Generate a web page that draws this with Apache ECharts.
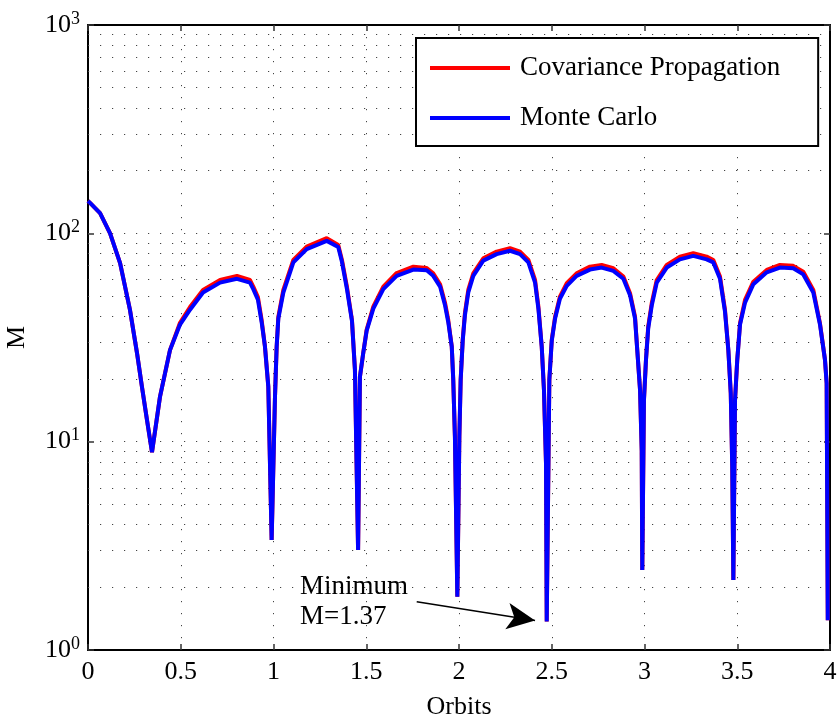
<!DOCTYPE html>
<html>
<head>
<meta charset="utf-8">
<script src="https://cdn.jsdelivr.net/npm/echarts@6/dist/echarts.min.js"></script>
<style>html,body{margin:0;padding:0;background:#fff;}#c{width:840px;height:721px;}</style>
</head>
<body>
<div id="c"></div>
<script>
const orbits = [0, 0.011, 0.065, 0.119, 0.173, 0.226, 0.264, 0.291, 0.318, 0.345, 0.388, 0.442, 0.496, 0.550, 0.620, 0.712, 0.803, 0.873, 0.891, 0.916, 0.936, 0.954, 0.972, 0.990, 1.008, 1.017, 1.026, 1.053, 1.107, 1.179, 1.287, 1.349, 1.369, 1.396, 1.423, 1.439, 1.456, 1.466, 1.484, 1.502, 1.538, 1.592, 1.664, 1.754, 1.826, 1.861, 1.898, 1.925, 1.942, 1.961, 1.969, 1.978, 1.991, 2.002, 2.009, 2.020, 2.032, 2.050, 2.077, 2.131, 2.203, 2.275, 2.329, 2.374, 2.410, 2.428, 2.446, 2.458, 2.469, 2.473, 2.487, 2.500, 2.518, 2.544, 2.581, 2.634, 2.706, 2.769, 2.832, 2.886, 2.922, 2.949, 2.961, 2.976, 2.985, 2.988, 2.997, 3.008, 3.020, 3.039, 3.066, 3.120, 3.191, 3.263, 3.335, 3.371, 3.407, 3.434, 3.452, 3.465, 3.473, 3.479, 3.488, 3.500, 3.515, 3.542, 3.587, 3.659, 3.730, 3.802, 3.856, 3.910, 3.946, 3.973, 3.982, 3.988];

const covariancePropagation = [143, 140, 125, 100, 72, 43, 26.7, 18.3, 12.7, 8.9, 16.4, 27.5, 37.2, 44.3, 53.5, 59.7, 62.4, 59.7, 55.5, 49.5, 38.4, 28.6, 18.4, 3.37, 16.4, 28.5, 39.7, 53.5, 74.5, 86.4, 94.8, 88, 74.5, 55.3, 38.4, 22.1, 3.02, 20.5, 26.7, 34.4, 44.5, 55.5, 64.5, 69.2, 68.2, 64.3, 57, 46.3, 38.4, 28.6, 19.8, 10.6, 1.80, 10.6, 19.8, 30.8, 41.5, 53.5, 64.3, 75.9, 81.7, 84.8, 81.7, 74.5, 59.7, 44.5, 28.6, 17.7, 7.9, 1.37, 19.8, 30.8, 39.8, 49.7, 57.6, 64.3, 69.2, 70.5, 68, 62, 51.6, 39.8, 27.5, 17.7, 9.1, 2.42, 15.8, 24.7, 35.7, 46.2, 59.7, 70.5, 77.3, 80.2, 77.3, 74.5, 62, 42.9, 27.5, 17.1, 7.6, 2.17, 15.8, 24.7, 37, 47.9, 58.6, 66.7, 70.5, 69.8, 65.5, 53.5, 37, 24.7, 19.1, 1.39];

const monteCarlo = [143, 140, 125, 100, 72, 43, 26.7, 18.3, 12.7, 8.9, 16.4, 27.5, 36.5, 43, 52, 58, 60.5, 58, 54, 48, 37.5, 28.6, 18.4, 3.37, 16.4, 28.5, 39, 52, 72.5, 84, 92, 86, 73, 54, 38, 22.1, 3.02, 20.5, 26.7, 34, 43.5, 54, 62.5, 67, 66.5, 62.5, 55.5, 45, 37.5, 28.6, 19.8, 10.6, 1.80, 10.6, 19.8, 30.5, 40.5, 52, 62.5, 74, 79.5, 82.5, 79.5, 72.5, 58, 43.5, 28.6, 17.7, 7.9, 1.37, 19.8, 30.5, 39, 48.5, 56, 62.5, 67, 68.5, 66, 60.5, 50.5, 39, 27.5, 17.7, 9.1, 2.42, 15.8, 24.7, 35, 45, 58, 68.5, 75, 78, 75, 72.5, 60.5, 42, 27.5, 17.1, 7.6, 2.17, 15.8, 24.7, 36.5, 46.5, 57, 65, 68.5, 68, 63.5, 52, 36.5, 24.7, 19.1, 1.39];

const seriesNames = ['Covariance Propagation', 'Monte Carlo'];
const yGridValues = [2, 3, 4, 5, 6, 7, 8, 9, 10, 20, 30, 40, 50, 60, 70, 80, 90, 100, 200, 300, 400, 500, 600, 700, 800, 900];
const annotationText = 'Minimum\nM=1.37';
const annotationAnchor = [1.143, 1.706];
const arrowStart = [1.772, 1.706];
const arrowEnd = [2.410, 1.386];

const FONT = 'Liberation Serif';
const chart = echarts.init(document.getElementById('c'), null, {renderer: 'canvas'});

const zip = (xs, ys) => xs.map((x, i) => [x, ys[i]]);
const gridDot = {color: '#444', width: 1, type: [1.2, 10.8]};

const yLabel = {
  show: true, margin: 8,
  formatter: v => '{b|10}{s|' + Math.round(Math.log10(v)) + '}',
  rich: {
    b: {fontSize: 26, fontFamily: FONT, color: '#000', lineHeight: 30},
    s: {fontSize: 18, fontFamily: FONT, color: '#000', lineHeight: 12, verticalAlign: 'top'}
  }
};

chart.setOption({
  animation: false,
  backgroundColor: '#fff',
  grid: {left: 88, right: 10, top: 25, bottom: 71, containLabel: false, outerBoundsMode: 'none'},
  legend: {
    orient: 'vertical', left: 416, top: 38,
    backgroundColor: '#fff', borderColor: '#000', borderWidth: 2, borderRadius: 0,
    padding: [15, 38, 13, 14], itemGap: 20, itemWidth: 80, itemHeight: 4, icon: 'rect',
    textStyle: {fontSize: 27, fontFamily: FONT, color: '#000', lineHeight: 30, padding: [0, 0, 0, 5]},
    data: seriesNames
  },
  xAxis: [{
    type: 'value', min: 0, max: 4, interval: 0.5, position: 'bottom',
    name: 'Orbits', nameLocation: 'middle', nameGap: 44,
    nameTextStyle: {fontSize: 26, fontFamily: FONT, color: '#000'},
    axisLine: {show: true, onZero: false, lineStyle: {color: '#000', width: 2}},
    axisTick: {show: true, inside: true, length: 6, lineStyle: {color: '#333', width: 1.5}},
    axisLabel: {fontSize: 26, fontFamily: FONT, color: '#000', margin: 9},
    splitLine: {show: true, lineStyle: gridDot}
  }, {
    type: 'value', min: 0, max: 4, interval: 0.5, position: 'top',
    axisLine: {show: true, onZero: false, lineStyle: {color: '#000', width: 2}},
    axisTick: {show: true, inside: true, length: 6, lineStyle: {color: '#333', width: 1.5}},
    axisLabel: {show: false}, splitLine: {show: false}
  }],
  yAxis: [{
    type: 'log', logBase: 10, min: 1, max: 1000, position: 'left',
    name: 'M', nameLocation: 'middle', nameGap: 58, nameRotate: 90,
    nameTextStyle: {fontSize: 26, fontFamily: FONT, color: '#000'},
    axisLine: {show: true, onZero: false, lineStyle: {color: '#000', width: 2}},
    axisTick: {show: true, inside: true, length: 6, lineStyle: {color: '#333', width: 1.5}},
    axisLabel: yLabel,
    splitLine: {show: false}
  }, {
    type: 'log', logBase: 10, min: 1, max: 1000, position: 'right',
    axisLine: {show: true, onZero: false, lineStyle: {color: '#000', width: 2}},
    axisTick: {show: true, inside: true, length: 6, lineStyle: {color: '#333', width: 1.5}},
    axisLabel: {show: false}, splitLine: {show: false}
  }],
  series: [{
    name: seriesNames[0], type: 'line', xAxisIndex: 0, yAxisIndex: 0,
    data: zip(orbits, covariancePropagation),
    showSymbol: false, symbol: 'none', color: '#ff0000',
    lineStyle: {color: '#ff0000', width: 4}, z: 3,
    markLine: {
      silent: true, symbol: ['none', 'none'], label: {show: false},
      lineStyle: gridDot, animation: false, z: 1,
      data: yGridValues.map(v => ({yAxis: v}))
    }
  }, {
    name: seriesNames[1], type: 'line', xAxisIndex: 0, yAxisIndex: 0,
    data: zip(orbits, monteCarlo),
    showSymbol: false, symbol: 'none', color: '#0000ff',
    lineStyle: {color: '#0000ff', width: 4}, z: 4,
    markLine: {
      silent: true, symbol: ['none', 'arrow'], symbolSize: [20, 28],
      label: {show: false}, animation: false,
      lineStyle: {color: '#000', width: 1.5, type: 'solid'},
      data: [[{coord: arrowStart}, {coord: arrowEnd}]]
    },
    markPoint: {
      silent: true, symbol: 'circle', symbolSize: 0, animation: false,
      label: {show: true, position: 'right', distance: 0, formatter: annotationText,
        fontSize: 27, fontFamily: FONT, color: '#000', lineHeight: 30, align: 'left'},
      data: [{coord: annotationAnchor}]
    }
  }]
});
</script>
</body>
</html>
